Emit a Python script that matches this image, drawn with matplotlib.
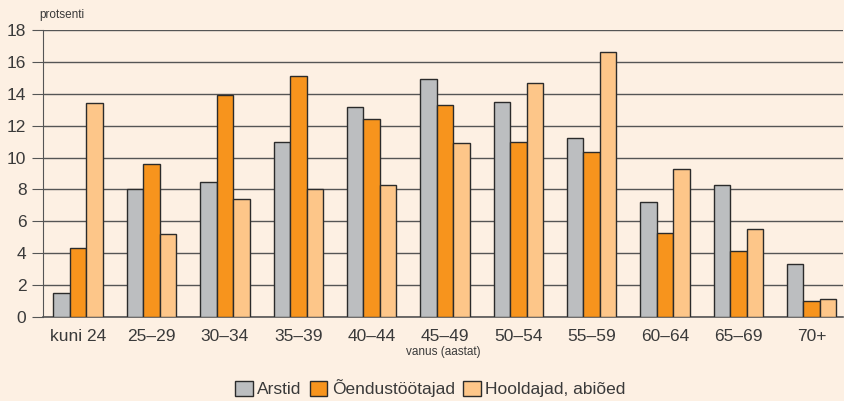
import matplotlib.pyplot as plt
import numpy as np

plt.rcParams['font.family'] = ['Liberation Sans', 'DejaVu Sans']

groups = ['kuni 24', '25–29', '30–34', '35–39', '40–44', '45–49',
          '50–54', '55–59', '60–64', '65–69', '70+']
arstid = [1.5, 8.0, 8.5, 11.0, 13.2, 14.9, 13.5, 11.2, 7.2, 8.3, 3.3]
oendus = [4.3, 9.6, 13.9, 15.1, 12.4, 13.3, 11.0, 10.35, 5.3, 4.15, 1.0]
hooldajad = [13.4, 5.2, 7.4, 8.0, 8.3, 10.9, 14.7, 16.6, 9.3, 5.5, 1.1]

series = ['Arstid', 'Õendustöötajad', 'Hooldajad, abiõed']
colors = ['#BCBEC0', '#F7941D', '#FDC689']
bg = '#FDF0E3'
txt = '#3a3a3a'

fig = plt.figure(figsize=(8.44, 4.01), dpi=100, facecolor=bg)
ax = fig.add_axes([0.051, 0.2095, 0.948, 0.7155], facecolor=bg)

x = np.arange(len(groups))
w = 0.225
for i, (vals, c, name) in enumerate(zip([arstid, oendus, hooldajad], colors, series)):
    ax.bar(x + (i - 1) * w, vals, w, color=c, edgecolor='#2b2b2b',
           linewidth=1.0, label=name, zorder=3)

ax.set_ylim(0, 18)
ax.set_xlim(-0.48, 10.43)
ax.set_yticks(range(0, 19, 2))
ax.yaxis.grid(True, color='#555555', linewidth=1.0, zorder=0)
ax.set_axisbelow(True)
for s in ['top', 'right']:
    ax.spines[s].set_visible(False)
ax.spines['left'].set_color('#555555')
ax.spines['bottom'].set_color('#555555')
ax.spines['bottom'].set_linewidth(1.2)
ax.tick_params(axis='y', length=8, color='#555555', labelsize=12.5, labelcolor=txt, pad=4)
ax.tick_params(axis='x', length=0, labelsize=12.5, labelcolor=txt, pad=9)
ax.set_xticks(x)
ax.set_xticklabels(groups)

ax.set_xlabel('vanus (aastat)', fontsize=8.5, color=txt, labelpad=1)
fig.text(0.047, 0.955, 'protsenti', fontsize=8.5, color=txt)

leg = fig.legend(loc='lower center', bbox_to_anchor=(0.51, -0.03), ncol=3, frameon=False,
                 fontsize=12.5, handlelength=1.0, handleheight=1.0, handletextpad=0.25,
                 columnspacing=0.5, labelcolor=txt)

fig.savefig('out.png', dpi=100, facecolor=bg)
